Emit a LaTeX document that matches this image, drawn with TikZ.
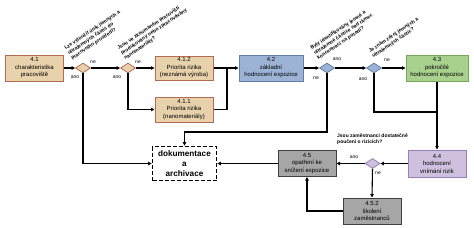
\documentclass[tikz,border=0pt]{standalone}
\usepackage{fontspec}
\setmainfont{Liberation Sans}
\usetikzlibrary{shapes.geometric,arrows.meta}
\definecolor{tanF}{RGB}{232,210,172}
\definecolor{tanD}{RGB}{178,108,84}
\definecolor{blueF}{RGB}{157,179,214}
\definecolor{blueD}{RGB}{100,125,170}
\definecolor{greenF}{RGB}{169,209,142}
\definecolor{greenD}{RGB}{118,168,92}
\definecolor{purpF}{RGB}{206,192,222}
\definecolor{purpD}{RGB}{150,128,180}
\definecolor{grayF}{RGB}{166,166,166}
\definecolor{grayD}{RGB}{64,64,64}
\begin{document}
\begin{tikzpicture}[x=1bp,y=-1bp,
 box/.style={draw, line width=1bp, minimum width=58bp, minimum height=26bp, inner sep=0pt, align=center, font=\fontsize{6}{7.5}\selectfont},
 tanbox/.style={box, fill=tanF, draw=tanD},
 dia/.style={diamond, draw, line width=0.8bp, minimum width=15bp, minimum height=10bp, inner sep=0pt},
 conn/.style={line width=1.1bp, -{Triangle[length=3.5bp,width=3.5bp]}},
 plain/.style={line width=1.1bp},
 lab/.style={font=\fontsize{5}{6}\selectfont, inner sep=0pt},
 qtext/.style={font=\bfseries\fontsize{5}{6}\selectfont, align=left, inner sep=0pt, rotate=34, anchor=south west}]
\useasboundingbox (0,0) rectangle (474,227);
% boxes
\node[tanbox, minimum width=57bp] (b41) at (34.5,68) {4.1\\charakteristika\\pracoviště};
\node[dia, fill=tanF, draw=tanD] (d1) at (83,68) {};
\node[dia, fill=tanF, draw=tanD] (d2) at (128,68) {};
\node[tanbox, minimum height=24bp] (b412) at (184,68) {4.1.2\\Priorita rizika\\(neznámá výroba)};
\node[tanbox, minimum height=25bp] (b411) at (184,109.5) {4.1.1\\Priorita rizika\\(nanomateriály)};
\node[box, fill=blueF, draw=blueD, minimum width=64bp] (b42) at (271,68) {4.2\\základní\\hodnocení expozice};
\node[dia, fill=blueF, draw=blueD] (d3) at (327,68) {};
\node[dia, fill=blueF, draw=blueD] (d4) at (374,68) {};
\node[box, fill=greenF, draw=greenD, minimum width=62bp] (b43) at (437,68) {4.3\\pokročilé\\hodnocení expozice};
\node[box, fill=purpF, draw=purpD, minimum height=27bp] (b44) at (437,163.5) {4.4\\hodnocení\\vnímání rizik};
\node[dia, fill=purpF, draw=purpD] (d5) at (372.5,163.5) {};
\node[box, fill=grayF, draw=grayD] (b45) at (307,163.5) {4.5\\opatření ke\\snížení expozice};
\node[box, fill=grayF, draw=grayD] (b452) at (372,211) {4.5.2\\školení\\zaměstnanců};
\node[draw, dashed, dash pattern=on 4bp off 2bp, line width=1.8bp, fill=white, minimum width=64bp, minimum height=34bp, inner sep=0pt, align=center, font=\bfseries\fontsize{8.2}{9.7}\selectfont] (doc) at (184.5,163.5) {dokumentace\\a\\archivace};
% questions
\node[qtext] (q1) at (73,61) {Lze vyloučit únik jemných a\\ultrajemných částic do\\pracovního prostředí?};
\node[qtext] (q2) at (126,61) {Jsou ve zkoumaném pracovišti\\produkovány nebo zpracovávány\\nanomateriály?};
\node[qtext] (q3) at (319,61) {Byly identifikovány jemné a\\ultrajemné částice nad rámec\\koncentrací na pozadí?};
\node[qtext] (q4) at (374,59) {Je znám zdroj jemných a\\ultrajemných částic?};
\node[font=\bfseries\fontsize{5}{6}\selectfont, align=left, inner sep=0pt, anchor=north west] (q5) at (337,134) {Jsou zaměstnanci dostatečně\\poučeni o rizicích?};
% coordinates
\coordinate (j1) at (227,68);
\coordinate (j2) at (327,132);
\coordinate (j3) at (437,112);
% connectors
\draw[conn] (b41) -- (d1);
\draw[conn] (d1) -- (d2);
\draw[conn] (d1.south) |- (doc.west);
\draw[conn] (d2) -- (b412);
\draw[conn] (d2.south) |- (b411.west);
\draw[plain] (b412.east) -- (j1);
\draw[plain] (b411.east) -| (j1);
\draw[conn] (j1) -- (b42.west);
\draw[conn] (b42) -- (d3);
\draw[conn] (d3) -- (d4);
\draw[conn] (d3.south) -- (j2) -| (doc.north);
\draw[conn] (d4) -- (b43);
\draw[plain] (d4.south) |- (j3);
\draw[conn] (b43.south) -- (b44.north);
\draw[conn] (b44) -- (d5);
\draw[conn] (d5) -- (b45);
\draw[conn] (d5.south) -- (b452.north);
\draw[conn] (b452.west) -| (b45.south);
\draw[conn] (b45.west) -- (doc.east);
% labels
\node[lab] (l1n) at (93,62) {ne};
\node[lab] (l1a) at (75,77) {ano};
\node[lab] (l2n) at (138,62) {ne};
\node[lab] (l2a) at (117,77) {ano};
\node[lab] (l3a) at (337,59) {ano};
\node[lab] (l3n) at (316,78) {ne};
\node[lab] (l4n) at (387,60) {ne};
\node[lab] (l4a) at (363,79) {ano};
\node[lab] (l5a) at (354,157) {ano};
\node[lab] (l5n) at (378,173) {ne};
\end{tikzpicture}
\end{document}
